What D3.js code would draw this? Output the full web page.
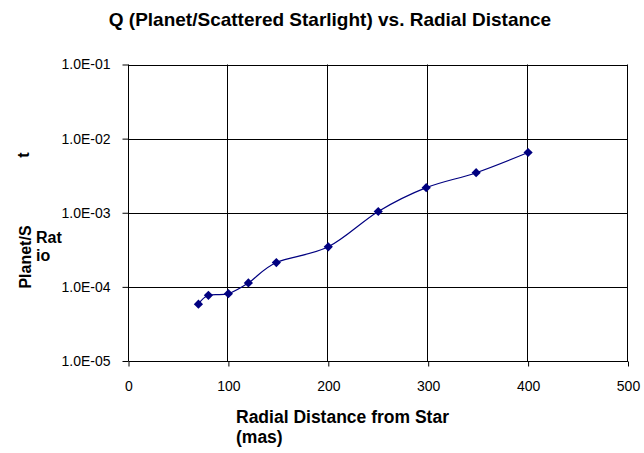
<!DOCTYPE html>
<html>
<head>
<meta charset="utf-8">
<script src="https://cdn.jsdelivr.net/npm/d3@7"></script>
<style>
  body { margin: 0; background: #fff; }
  svg { display: block; font-family: Arial, "Liberation Sans", sans-serif; }
</style>
</head>
<body>
<div id="chart"></div>
<script>
// data
const distance = [70, 80, 100, 120, 148, 200, 250, 298, 348, 400];
const ratio = [5.85e-5, 7.7e-5, 8.1e-5, 1.13e-4, 2.13e-4, 3.47e-4, 1.04e-3, 2.18e-3, 3.47e-3, 6.5e-3];
const xTicks = [0, 100, 200, 300, 400, 500];
const yTicks = [1e-5, 1e-4, 1e-3, 1e-2, 1e-1];

const width = 644, height = 453;
const margin = {top: 64.5, right: 16, bottom: 92, left: 128.5};

const svg = d3.select('#chart').append('svg')
  .attr('width', width)
  .attr('height', height);

const x = d3.scaleLinear().domain([0, 500]).range([margin.left, width - margin.right]);
const y = d3.scaleLog().domain([1e-5, 1e-1]).range([height - margin.bottom, margin.top]);

// gridlines
svg.append('g')
  .selectAll('line.h')
  .data(yTicks)
  .enter().append('line')
    .attr('x1', x(0)).attr('x2', x(500))
    .attr('y1', d => Math.round(y(d)) + 0.5).attr('y2', d => Math.round(y(d)) + 0.5)
    .attr('stroke', '#000').attr('stroke-width', 1);

svg.append('g')
  .selectAll('line.v')
  .data(xTicks)
  .enter().append('line')
    .attr('x1', d => Math.round(x(d)) - 0.5).attr('x2', d => Math.round(x(d)) - 0.5)
    .attr('y1', y(1e-1)).attr('y2', y(1e-5))
    .attr('stroke', '#000').attr('stroke-width', 1);

// axes
const xAxis = d3.axisBottom(x).tickValues(xTicks).tickSize(5).tickPadding(15);
const gx = svg.append('g')
  .attr('transform', 'translate(0,' + (Math.round(y(1e-5)) + 0.5) + ')')
  .call(xAxis);
gx.select('.domain').remove();
gx.selectAll('text').attr('font-size', 14).attr('fill', '#000').attr('font-family', 'Arial, "Liberation Sans", sans-serif');

const yAxis = d3.axisLeft(y).tickValues(yTicks).tickSize(6).tickPadding(12)
  .tickFormat(d => '1.0E-0' + Math.round(-Math.log10(d)));
const gy = svg.append('g')
  .attr('transform', 'translate(' + (Math.round(x(0)) - 0.5) + ',0)')
  .call(yAxis);
gy.select('.domain').remove();
gy.selectAll('text').attr('font-size', 14).attr('fill', '#000').attr('font-family', 'Arial, "Liberation Sans", sans-serif');

// series
const pts = distance.map((d, i) => [x(d), y(ratio[i])]);

svg.append('path')
  .attr('d', d3.line().curve(d3.curveCatmullRom.alpha(0))(pts))
  .attr('fill', 'none')
  .attr('stroke', '#000080')
  .attr('stroke-width', 1.2);

const r = 4.6;
svg.append('g')
  .selectAll('path')
  .data(pts)
  .enter().append('path')
    .attr('d', p => 'M' + p[0] + ',' + (p[1] - r) + 'L' + (p[0] + r) + ',' + p[1] +
                    'L' + p[0] + ',' + (p[1] + r) + 'L' + (p[0] - r) + ',' + p[1] + 'Z')
    .attr('fill', '#000080');

// title
svg.append('text')
  .attr('x', 330).attr('y', 26)
  .attr('text-anchor', 'middle')
  .attr('font-size', 19).attr('font-weight', 'bold')
  .text('Q (Planet/Scattered Starlight) vs. Radial Distance');

// x label
const xl = svg.append('text')
  .attr('font-size', 17.5).attr('font-weight', 'bold');
xl.append('tspan').attr('x', 236).attr('y', 423).text('Radial Distance from Star');
xl.append('tspan').attr('x', 236).attr('y', 443).text('(mas)');

// y label (wrapped oddly, as in the original)
svg.append('text')
  .attr('transform', 'translate(31,257) rotate(-90)')
  .attr('text-anchor', 'middle')
  .attr('font-size', 16).attr('font-weight', 'bold')
  .text('Planet/S');
svg.append('text')
  .attr('transform', 'translate(29,155) rotate(-90)')
  .attr('text-anchor', 'middle')
  .attr('font-size', 16).attr('font-weight', 'bold')
  .text('t');
svg.append('text')
  .attr('x', 36).attr('y', 243)
  .attr('font-size', 16).attr('font-weight', 'bold')
  .text('Rat');
svg.append('text')
  .attr('x', 36).attr('y', 261)
  .attr('font-size', 16).attr('font-weight', 'bold')
  .text('io');
</script>
</body>
</html>
